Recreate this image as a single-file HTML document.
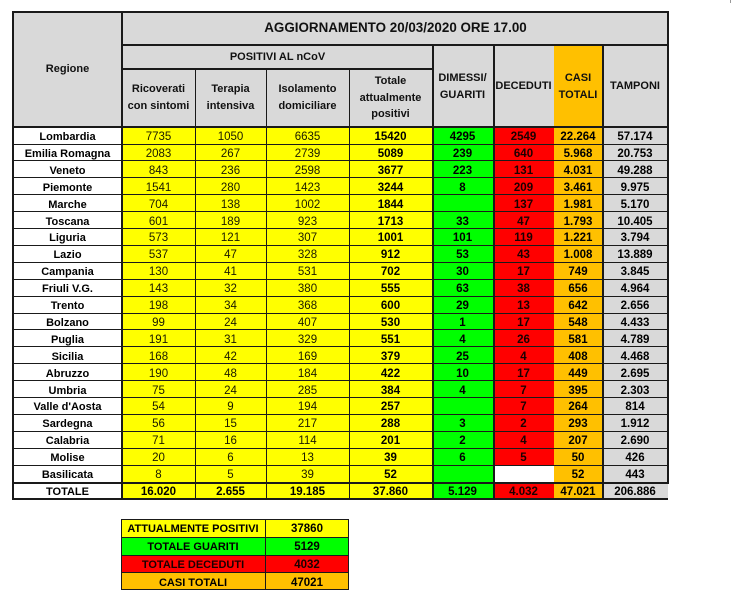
<!DOCTYPE html>
<html><head><meta charset="utf-8">
<style>
html,body{margin:0;padding:0;background:#fff;}
body{width:733px;height:607px;position:relative;overflow:hidden;font-family:"Liberation Sans",Arial,sans-serif;color:#000;}
.a{position:absolute;}
.r{position:absolute;left:0;width:733px;height:17px;}
.r span{position:absolute;top:0;height:17px;box-sizing:border-box;padding-top:2px;line-height:16px;text-align:center;font-size:11.5px;white-space:nowrap;}
.r .c0{left:14px;width:107px;background:#fff;font-weight:bold;font-size:11px;}
.r .c1{left:122px;width:73px;background:#ff0;color:#1a1a00;}
.r .c2{left:195px;width:71px;background:#ff0;color:#1a1a00;}
.r .c3{left:266px;width:83px;background:#ff0;color:#1a1a00;}
.r .c4{left:349px;width:83px;background:#ff0;font-weight:bold;}
.r .c5{left:432px;width:61px;background:#0f0;font-weight:bold;}
.r .c6{left:493px;width:61px;background:#f00;font-weight:bold;color:#1a0000;}
.r .c7{left:554px;width:48px;background:#ffc000;font-weight:bold;}
.r .c8{left:602px;width:66px;background:#d9d9d9;font-weight:bold;}
.r.t span{height:16px;padding-top:1px;line-height:16px;}
.h{position:absolute;height:1px;background:#1a1a1a;}
.v{position:absolute;width:1px;background:#1a1a1a;}
.hd{position:absolute;text-align:center;font-weight:bold;font-size:11px;line-height:16.5px;color:#111;}
.s{position:absolute;left:121px;width:228px;height:18px;}
.s span{position:absolute;top:0;height:18px;box-sizing:border-box;padding-top:1px;line-height:18px;text-align:center;font-weight:bold;font-size:11px;}
.s .k{left:0;width:144px;}
.s .w{left:144px;width:84px;font-size:11.5px;}
</style></head><body>

<!-- header background -->
<div class="a" style="left:12px;top:11px;width:657px;height:116px;background:#d9d9d9;"></div>
<div class="a" style="left:554px;top:45px;width:48px;height:82px;background:#ffc000;"></div>

<!-- header text -->
<div class="hd" style="left:123px;top:18px;width:545px;font-size:13.4px;line-height:20px;color:#111;">AGGIORNAMENTO 20/03/2020 ORE 17.00</div>
<div class="hd" style="left:14px;top:61px;width:107px;">Regione</div>
<div class="hd" style="left:123px;top:49px;width:309px;">POSITIVI AL nCoV</div>
<div class="hd" style="left:122px;top:81px;width:73px;">Ricoverati<br>con sintomi</div>
<div class="hd" style="left:195px;top:81px;width:71px;">Terapia<br>intensiva</div>
<div class="hd" style="left:266px;top:81px;width:83px;">Isolamento<br>domiciliare</div>
<div class="hd" style="left:349px;top:73px;width:83px;">Totale<br>attualmente<br>positivi</div>
<div class="hd" style="left:432px;top:70px;width:61px;">DIMESSI/<br>GUARITI</div>
<div class="hd" style="left:493px;top:78px;width:61px;">DECEDUTI</div>
<div class="hd" style="left:554px;top:70px;width:48px;">CASI<br>TOTALI</div>
<div class="hd" style="left:602px;top:78px;width:66px;">TAMPONI</div>

<!-- body rows -->
<div class="r" style="top:127px"><span class="c0">Lombardia</span><span class="c1">7735</span><span class="c2">1050</span><span class="c3">6635</span><span class="c4">15420</span><span class="c5">4295</span><span class="c6">2549</span><span class="c7">22.264</span><span class="c8">57.174</span></div>
<div class="r" style="top:143.9px"><span class="c0">Emilia Romagna</span><span class="c1">2083</span><span class="c2">267</span><span class="c3">2739</span><span class="c4">5089</span><span class="c5">239</span><span class="c6">640</span><span class="c7">5.968</span><span class="c8">20.753</span></div>
<div class="r" style="top:160.8px"><span class="c0">Veneto</span><span class="c1">843</span><span class="c2">236</span><span class="c3">2598</span><span class="c4">3677</span><span class="c5">223</span><span class="c6">131</span><span class="c7">4.031</span><span class="c8">49.288</span></div>
<div class="r" style="top:177.7px"><span class="c0">Piemonte</span><span class="c1">1541</span><span class="c2">280</span><span class="c3">1423</span><span class="c4">3244</span><span class="c5">8</span><span class="c6">209</span><span class="c7">3.461</span><span class="c8">9.975</span></div>
<div class="r" style="top:194.6px"><span class="c0">Marche</span><span class="c1">704</span><span class="c2">138</span><span class="c3">1002</span><span class="c4">1844</span><span class="c5"></span><span class="c6">137</span><span class="c7">1.981</span><span class="c8">5.170</span></div>
<div class="r" style="top:211.5px"><span class="c0">Toscana</span><span class="c1">601</span><span class="c2">189</span><span class="c3">923</span><span class="c4">1713</span><span class="c5">33</span><span class="c6">47</span><span class="c7">1.793</span><span class="c8">10.405</span></div>
<div class="r" style="top:228.4px"><span class="c0">Liguria</span><span class="c1">573</span><span class="c2">121</span><span class="c3">307</span><span class="c4">1001</span><span class="c5">101</span><span class="c6">119</span><span class="c7">1.221</span><span class="c8">3.794</span></div>
<div class="r" style="top:245.3px"><span class="c0">Lazio</span><span class="c1">537</span><span class="c2">47</span><span class="c3">328</span><span class="c4">912</span><span class="c5">53</span><span class="c6">43</span><span class="c7">1.008</span><span class="c8">13.889</span></div>
<div class="r" style="top:262.2px"><span class="c0">Campania</span><span class="c1">130</span><span class="c2">41</span><span class="c3">531</span><span class="c4">702</span><span class="c5">30</span><span class="c6">17</span><span class="c7">749</span><span class="c8">3.845</span></div>
<div class="r" style="top:279.1px"><span class="c0">Friuli V.G.</span><span class="c1">143</span><span class="c2">32</span><span class="c3">380</span><span class="c4">555</span><span class="c5">63</span><span class="c6">38</span><span class="c7">656</span><span class="c8">4.964</span></div>
<div class="r" style="top:296px"><span class="c0">Trento</span><span class="c1">198</span><span class="c2">34</span><span class="c3">368</span><span class="c4">600</span><span class="c5">29</span><span class="c6">13</span><span class="c7">642</span><span class="c8">2.656</span></div>
<div class="r" style="top:312.9px"><span class="c0">Bolzano</span><span class="c1">99</span><span class="c2">24</span><span class="c3">407</span><span class="c4">530</span><span class="c5">1</span><span class="c6">17</span><span class="c7">548</span><span class="c8">4.433</span></div>
<div class="r" style="top:329.8px"><span class="c0">Puglia</span><span class="c1">191</span><span class="c2">31</span><span class="c3">329</span><span class="c4">551</span><span class="c5">4</span><span class="c6">26</span><span class="c7">581</span><span class="c8">4.789</span></div>
<div class="r" style="top:346.7px"><span class="c0">Sicilia</span><span class="c1">168</span><span class="c2">42</span><span class="c3">169</span><span class="c4">379</span><span class="c5">25</span><span class="c6">4</span><span class="c7">408</span><span class="c8">4.468</span></div>
<div class="r" style="top:363.6px"><span class="c0">Abruzzo</span><span class="c1">190</span><span class="c2">48</span><span class="c3">184</span><span class="c4">422</span><span class="c5">10</span><span class="c6">17</span><span class="c7">449</span><span class="c8">2.695</span></div>
<div class="r" style="top:380.5px"><span class="c0">Umbria</span><span class="c1">75</span><span class="c2">24</span><span class="c3">285</span><span class="c4">384</span><span class="c5">4</span><span class="c6">7</span><span class="c7">395</span><span class="c8">2.303</span></div>
<div class="r" style="top:397.4px"><span class="c0">Valle d'Aosta</span><span class="c1">54</span><span class="c2">9</span><span class="c3">194</span><span class="c4">257</span><span class="c5"></span><span class="c6">7</span><span class="c7">264</span><span class="c8">814</span></div>
<div class="r" style="top:414.3px"><span class="c0">Sardegna</span><span class="c1">56</span><span class="c2">15</span><span class="c3">217</span><span class="c4">288</span><span class="c5">3</span><span class="c6">2</span><span class="c7">293</span><span class="c8">1.912</span></div>
<div class="r" style="top:431.2px"><span class="c0">Calabria</span><span class="c1">71</span><span class="c2">16</span><span class="c3">114</span><span class="c4">201</span><span class="c5">2</span><span class="c6">4</span><span class="c7">207</span><span class="c8">2.690</span></div>
<div class="r" style="top:448.1px"><span class="c0">Molise</span><span class="c1">20</span><span class="c2">6</span><span class="c3">13</span><span class="c4">39</span><span class="c5">6</span><span class="c6">5</span><span class="c7">50</span><span class="c8">426</span></div>
<div class="r" style="top:465px"><span class="c0">Basilicata</span><span class="c1">8</span><span class="c2">5</span><span class="c3">39</span><span class="c4">52</span><span class="c5"></span><span class="c6" style="background:#fff"></span><span class="c7">52</span><span class="c8">443</span></div>
<div class="r t" style="top:483px;height:16px;"><span class="c0">TOTALE</span><span class="c1" style="font-weight:bold;color:#000;">16.020</span><span class="c2" style="font-weight:bold;color:#000;">2.655</span><span class="c3" style="font-weight:bold;color:#000;">19.185</span><span class="c4">37.860</span><span class="c5">5.129</span><span class="c6">4.032</span><span class="c7">47.021</span><span class="c8">206.886</span></div>

<!-- horizontal lines -->
<div class="h" style="left:12px;top:11px;width:657px;height:2px;"></div>
<div class="h" style="left:121px;top:44px;width:548px;height:2px;"></div>
<div class="h" style="left:121px;top:68px;width:312px;height:1.5px;"></div>
<div class="h" style="left:12px;top:126px;width:657px;height:2px;"></div>
<div class="h" style="left:12px;top:143.5px;width:656px;"></div>
<div class="h" style="left:12px;top:160.4px;width:656px;"></div>
<div class="h" style="left:12px;top:177.3px;width:656px;"></div>
<div class="h" style="left:12px;top:194.2px;width:656px;"></div>
<div class="h" style="left:12px;top:211.1px;width:656px;"></div>
<div class="h" style="left:12px;top:228px;width:656px;"></div>
<div class="h" style="left:12px;top:244.9px;width:656px;"></div>
<div class="h" style="left:12px;top:261.8px;width:656px;"></div>
<div class="h" style="left:12px;top:278.7px;width:656px;"></div>
<div class="h" style="left:12px;top:295.6px;width:656px;"></div>
<div class="h" style="left:12px;top:312.5px;width:656px;"></div>
<div class="h" style="left:12px;top:329.4px;width:656px;"></div>
<div class="h" style="left:12px;top:346.3px;width:656px;"></div>
<div class="h" style="left:12px;top:363.2px;width:656px;"></div>
<div class="h" style="left:12px;top:380.1px;width:656px;"></div>
<div class="h" style="left:12px;top:397px;width:656px;"></div>
<div class="h" style="left:12px;top:413.9px;width:656px;"></div>
<div class="h" style="left:12px;top:430.8px;width:656px;"></div>
<div class="h" style="left:12px;top:447.7px;width:656px;"></div>
<div class="h" style="left:12px;top:464.6px;width:656px;"></div>
<div class="h" style="left:12px;top:482px;width:656px;height:2px;"></div>
<div class="h" style="left:12px;top:498px;width:656px;height:2px;"></div>

<!-- vertical lines -->
<div class="v" style="left:12px;top:11px;height:489px;width:2px;"></div>
<div class="v" style="left:121px;top:11px;height:489px;width:2px;"></div>
<div class="v" style="left:195px;top:68px;height:432px;"></div>
<div class="v" style="left:265.5px;top:68px;height:432px;"></div>
<div class="v" style="left:349px;top:68px;height:432px;"></div>
<div class="v" style="left:431.5px;top:44px;height:456px;width:2px;"></div>
<div class="v" style="left:492.5px;top:44px;height:456px;width:2px;"></div>
<div class="v" style="left:601.5px;top:44px;height:456px;width:2px;"></div>
<div class="v" style="left:667px;top:11px;height:473px;width:2px;"></div>

<!-- tiny mark top right -->
<div class="a" style="left:730px;top:0;width:1px;height:3px;background:#999;"></div>

<!-- summary box -->
<div class="s" style="top:519px;background:#ff0;"><span class="k">ATTUALMENTE POSITIVI</span><span class="w">37860</span></div>
<div class="s" style="top:537px;background:#0f0;"><span class="k">TOTALE GUARITI</span><span class="w">5129</span></div>
<div class="s" style="top:555px;background:#f00;color:#1a0000;"><span class="k">TOTALE DECEDUTI</span><span class="w">4032</span></div>
<div class="s" style="top:572.5px;height:17.5px;background:#ffc000;"><span class="k">CASI TOTALI</span><span class="w">47021</span></div>
<div class="a" style="left:121px;top:519px;width:226px;height:69px;border:1px solid #1a1a1a;"></div>
<div class="h" style="left:121px;top:536.5px;width:228px;"></div>
<div class="h" style="left:121px;top:554.5px;width:228px;"></div>
<div class="h" style="left:121px;top:572px;width:228px;"></div>
<div class="v" style="left:265px;top:519px;height:71px;"></div>

</body></html>
